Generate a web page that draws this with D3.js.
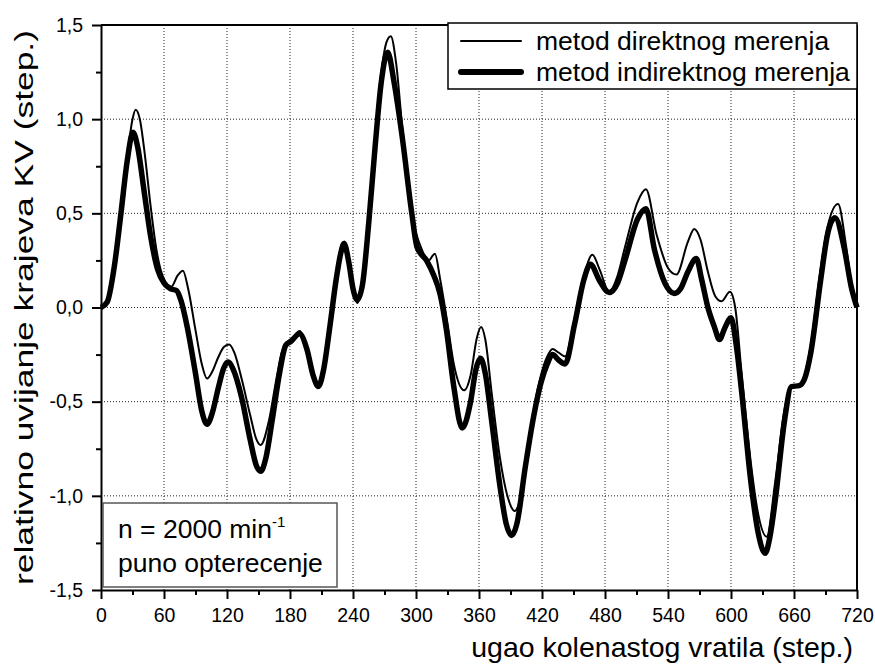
<!DOCTYPE html>
<html>
<head>
<meta charset="utf-8">
<script src="https://cdn.jsdelivr.net/npm/d3@7"></script>
<style>
  body { margin: 0; background: #fff; }
  text { font-family: Arial, "Liberation Sans", sans-serif; fill: #000; }
</style>
</head>
<body>
<script>
// ugao (deg) / vrednost, metod direktnog merenja
var direktDeg = [0, 6, 13, 19, 25, 30, 33, 37, 42, 47, 53, 60, 67, 73, 78, 83, 90, 96, 101, 106, 112, 117, 122, 127, 134, 142, 148, 152, 160, 167, 172, 178, 183, 189, 196, 202, 207, 212, 218, 224, 228, 232, 236, 240, 244, 249, 255, 261, 267, 272, 276, 281, 287, 296, 304, 312, 318, 323, 330, 336, 346, 352, 358, 362, 366, 372, 380, 387, 394, 400, 407, 413, 419, 425, 430, 436, 442, 451, 460, 468, 475, 484, 492, 499, 511, 519, 529, 540, 548, 559, 565, 571, 578, 585, 591, 599, 604, 610, 619, 626, 634, 642, 651, 657, 665, 670, 676, 685, 692, 702, 709, 715, 720];
var direktVal = [0, 0.03, 0.23, 0.5, 0.8, 1.0, 1.05, 1.0, 0.8, 0.55, 0.3, 0.15, 0.11, 0.17, 0.195, 0.1, -0.12, -0.3, -0.377, -0.34, -0.26, -0.21, -0.197, -0.24, -0.38, -0.57, -0.7, -0.73, -0.6, -0.38, -0.24, -0.18, -0.16, -0.125, -0.22, -0.36, -0.42, -0.33, -0.1, 0.15, 0.28, 0.35, 0.25, 0.1, 0.024, 0.12, 0.45, 0.9, 1.25, 1.41, 1.44, 1.3, 0.95, 0.49, 0.33, 0.25, 0.286, 0.15, -0.085, -0.3, -0.44, -0.36, -0.16, -0.104, -0.17, -0.45, -0.8, -1.0, -1.08, -1.0, -0.75, -0.52, -0.36, -0.26, -0.22, -0.24, -0.26, -0.06, 0.17, 0.28, 0.2, 0.083, 0.17, 0.32, 0.56, 0.628, 0.39, 0.21, 0.175, 0.35, 0.417, 0.36, 0.19, 0.06, 0.033, 0.083, 0.0, -0.34, -0.83, -1.1, -1.217, -0.93, -0.54, -0.42, -0.41, -0.36, -0.2, 0.19, 0.43, 0.55, 0.35, 0.11, 0];

// metod indirektnog merenja
var indirektDeg = [0, 6, 13, 19, 25, 30.5, 35, 41, 47.5, 54, 60, 66, 72, 76, 82, 90, 96, 101, 106, 112, 117, 121, 126, 134, 142, 148, 152, 157, 163, 170, 176, 181, 189, 196, 202, 207, 212, 218, 224, 228, 231.5, 236, 240, 244, 249, 255, 261, 267, 273, 279, 287, 296, 301, 310, 317, 323, 329, 336, 344, 352, 357, 361.5, 366, 372, 380, 386, 391, 396, 404, 412, 419, 425, 430, 436, 442, 451, 460, 466, 475, 484, 492, 499, 511, 519, 527, 537, 546, 552, 559, 567, 572, 578, 584, 589, 594, 600, 605, 610, 619, 626, 632.5, 637, 642, 651, 657.5, 665, 670, 676, 685.5, 692, 699, 708, 714.5, 720];
var indirektVal = [0, 0.03, 0.23, 0.5, 0.78, 0.93, 0.85, 0.62, 0.37, 0.2, 0.13, 0.1, 0.09, 0.04, -0.1, -0.35, -0.55, -0.62, -0.56, -0.42, -0.32, -0.29, -0.33, -0.48, -0.7, -0.84, -0.87, -0.8, -0.6, -0.35, -0.2, -0.18, -0.14, -0.22, -0.36, -0.42, -0.33, -0.1, 0.15, 0.28, 0.34, 0.24, 0.1, 0.04, 0.12, 0.45, 0.85, 1.2, 1.355, 1.2, 0.9, 0.5, 0.32, 0.25, 0.17, 0.07, -0.12, -0.42, -0.64, -0.5, -0.33, -0.27, -0.35, -0.6, -0.95, -1.15, -1.21, -1.15, -0.85, -0.58, -0.4, -0.3, -0.25, -0.28, -0.3, -0.09, 0.15, 0.23, 0.14, 0.08, 0.13, 0.25, 0.47, 0.525, 0.31, 0.13, 0.075, 0.1, 0.19, 0.26, 0.15, 0.0, -0.1, -0.17, -0.11, -0.055, -0.2, -0.44, -0.93, -1.2, -1.305, -1.22, -1.03, -0.6, -0.42, -0.415, -0.38, -0.24, 0.15, 0.39, 0.476, 0.31, 0.11, 0];

var xMajor = [0, 60, 120, 180, 240, 300, 360, 420, 480, 540, 600, 660, 720];
var xMinor = [30, 90, 150, 210, 270, 330, 390, 450, 510, 570, 630, 690];
var yMajor = [-1.5, -1.0, -0.5, 0.0, 0.5, 1.0, 1.5];
var yMinor = [-1.25, -0.75, -0.25, 0.25, 0.75, 1.25];

var seriesNames = ["metod direktnog merenja", "metod indirektnog merenja"];

var W = 875, H = 666;
var mLeft = 101, mRight = 857, mTop = 25, mBottom = 590;

var svg = d3.select("body").append("svg")
  .attr("width", W)
  .attr("height", H);

var x = d3.scaleLinear().domain([0, 720]).range([mLeft, mRight]);
var y = d3.scaleLinear().domain([-1.5, 1.5]).range([mBottom, mTop]);

var fmt = function(d) { return d.toFixed(1).replace(".", ","); };

// grid
svg.append("g").selectAll("line")
  .data(xMajor.slice(1, -1))
  .enter().append("line")
  .attr("x1", function(d){ return x(d); })
  .attr("x2", function(d){ return x(d); })
  .attr("y1", mTop).attr("y2", mBottom)
  .attr("stroke", "#222").attr("stroke-width", 1)
  .attr("stroke-dasharray", "1,2");
svg.append("g").selectAll("line")
  .data(yMajor.slice(1, -1))
  .enter().append("line")
  .attr("y1", function(d){ return y(d); })
  .attr("y2", function(d){ return y(d); })
  .attr("x1", mLeft).attr("x2", mRight)
  .attr("stroke", "#222").attr("stroke-width", 1)
  .attr("stroke-dasharray", "1,2");

// curves
var line = d3.line()
  .x(function(d){ return x(d[0]); })
  .y(function(d){ return y(d[1]); })
  .curve(d3.curveMonotoneX);

var indirekt = d3.zip(indirektDeg, indirektVal);
var direkt = d3.zip(direktDeg, direktVal);

svg.append("path")
  .datum(indirekt)
  .attr("d", line)
  .attr("fill", "none")
  .attr("stroke", "#000")
  .attr("stroke-width", 5.5)
  .attr("stroke-linejoin", "round");

svg.append("path")
  .datum(direkt)
  .attr("d", line)
  .attr("fill", "none")
  .attr("stroke", "#000")
  .attr("stroke-width", 2)
  .attr("stroke-linejoin", "round");

// frame
svg.append("line").attr("x1", mLeft).attr("x2", mRight).attr("y1", mTop).attr("y2", mTop)
  .attr("stroke", "#000").attr("stroke-width", 2);
svg.append("line").attr("x1", mRight).attr("x2", mRight).attr("y1", mTop).attr("y2", mBottom)
  .attr("stroke", "#000").attr("stroke-width", 2);

// axes
svg.append("g")
  .attr("transform", "translate(0," + mBottom + ")")
  .call(d3.axisBottom(x).tickValues(xMajor).tickSize(9).tickSizeOuter(0).tickPadding(9).tickFormat(d3.format("d")));
svg.append("g")
  .attr("transform", "translate(0," + mBottom + ")")
  .call(d3.axisBottom(x).tickValues(xMinor).tickSize(5).tickSizeOuter(0).tickFormat(""))
  .select(".domain").remove();

svg.append("g")
  .attr("transform", "translate(" + mLeft + ",0)")
  .call(d3.axisLeft(y).tickValues(yMajor).tickSize(9).tickSizeOuter(0).tickPadding(9).tickFormat(fmt));
svg.append("g")
  .attr("transform", "translate(" + mLeft + ",0)")
  .call(d3.axisLeft(y).tickValues(yMinor).tickSize(5).tickSizeOuter(0).tickFormat(""))
  .select(".domain").remove();

svg.selectAll(".domain").attr("stroke-width", 2);
svg.selectAll(".tick line").attr("stroke-width", 2);
svg.selectAll(".tick text")
  .style("font-family", "Arial, 'Liberation Sans', sans-serif")
  .style("font-size", "19.5px");

// axis titles
svg.append("text")
  .attr("x", 853).attr("y", 657)
  .attr("text-anchor", "end")
  .style("font-size", "28.5px")
  .text("ugao kolenastog vratila (step.)");

svg.append("text")
  .attr("transform", "translate(33," + ((mTop + mBottom) / 2) + ") rotate(-90)")
  .attr("text-anchor", "middle")
  .attr("textLength", 555)
  .attr("lengthAdjust", "spacingAndGlyphs")
  .style("font-size", "25px")
  .text("relativno uvijanje krajeva KV (step.)");

// legend
var lg = svg.append("g");
lg.append("rect")
  .attr("x", 448).attr("y", 23).attr("width", 409).attr("height", 66)
  .attr("fill", "#fff").attr("stroke", "#000").attr("stroke-width", 1.5);
var lw = [2, 6];
var ly = [41, 72];
seriesNames.forEach(function(name, i) {
  lg.append("line")
    .attr("x1", 461).attr("x2", 521)
    .attr("y1", ly[i]).attr("y2", ly[i])
    .attr("stroke", "#000").attr("stroke-width", lw[i])
    .attr("stroke-linecap", "round");
  lg.append("text")
    .attr("x", 536).attr("y", ly[i] + 9)
    .style("font-size", "26.5px")
    .text(name);
});

// annotation
var an = svg.append("g");
an.append("rect")
  .attr("x", 103).attr("y", 503).attr("width", 234).attr("height", 84)
  .attr("fill", "#fff").attr("stroke", "#555").attr("stroke-width", 1.5);
var t1 = an.append("text").attr("x", 118).attr("y", 538).style("font-size", "26.5px");
t1.append("tspan").text("n = 2000 min");
t1.append("tspan").attr("dy", -11).style("font-size", "15px").text("-1");
an.append("text").attr("x", 118).attr("y", 572).style("font-size", "26.5px").text("puno opterecenje");
</script>
</body>
</html>
